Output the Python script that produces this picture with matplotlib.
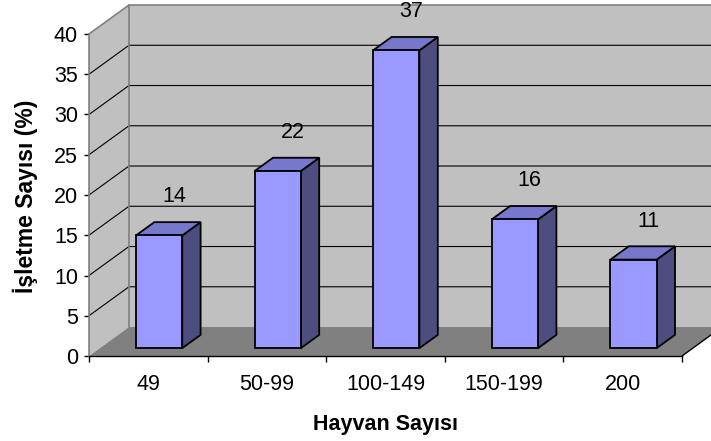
import matplotlib

matplotlib.use("Agg")
import matplotlib.pyplot as plt
import numpy as np
from matplotlib.patches import Polygon

plt.rcParams["font.family"] = ["Liberation Sans", "DejaVu Sans"]

CATEGORIES = ["49", "50-99", "100-149", "150-199", "200"]
VALUES = [14, 22, 37, 16, 11]
Y_TICKS = list(range(0, 41, 5))
X_LABEL = "Hayvan Sayısı"
Y_LABEL = "İşletme Sayısı (%)"

WALL = "#C0C0C0"
FLOOR = "#808080"
EDGE = "#808080"
FRONT = "#9999FF"
SIDE = "#4D4D80"
TOP = "#7777CC"

# oblique offset of the back wall (data units), and bar placement in depth
DEPTH_X = 0.337
DEPTH_Y = 3.6
BAR_WIDTH = 0.39
BAR_Z0, BAR_Z1 = 0.27, 0.73


def shift(x, y, z):
    return x + z * DEPTH_X, y + z * DEPTH_Y


def face(ax, points, color, zorder, lw=0.0, ec="none"):
    ax.add_patch(
        Polygon(points, closed=True, fc=color, ec=ec, lw=lw,
                joinstyle="miter", zorder=zorder, clip_on=False)
    )


fig = plt.figure(figsize=(7.11, 4.41), dpi=100)
ax = fig.add_axes([89 / 711, 85 / 441, 593 / 711, 322 / 441])
n = len(CATEGORIES)
top = Y_TICKS[-1]
ax.set_xlim(0, n)
ax.set_ylim(0, top)
ax.patch.set_visible(False)

# walls and floor
face(ax, [shift(0, 0, 1), shift(n, 0, 1), shift(n, top, 1), shift(0, top, 1)], WALL, 0.5)
face(ax, [(0, 0), shift(0, 0, 1), shift(0, top, 1), (0, top)], WALL, 0.5)
face(ax, [(0, 0), (n, 0), shift(n, 0, 1), shift(0, 0, 1)], FLOOR, 0.6)

for v in Y_TICKS[1:-1]:
    ax.plot([0, DEPTH_X, n + DEPTH_X], [v, v + DEPTH_Y, v + DEPTH_Y],
            color="black", lw=0.8, zorder=0.7, clip_on=False)

ax.plot([0, DEPTH_X, n + DEPTH_X], [top, top + DEPTH_Y, top + DEPTH_Y],
        color=EDGE, lw=1.2, zorder=0.8, clip_on=False)
ax.plot([DEPTH_X, DEPTH_X], [DEPTH_Y, top + DEPTH_Y],
        color=EDGE, lw=1.2, zorder=0.8, clip_on=False)
ax.plot([n, n + DEPTH_X], [0, DEPTH_Y], color="black", lw=1.0, zorder=0.8, clip_on=False)

# bars
for i, v in enumerate(VALUES):
    cx = i + 0.5
    x0, x1 = cx - BAR_WIDTH / 2, cx + BAR_WIDTH / 2
    front = [shift(x0, 0, BAR_Z0), shift(x1, 0, BAR_Z0), shift(x1, v, BAR_Z0), shift(x0, v, BAR_Z0)]
    side = [shift(x1, 0, BAR_Z0), shift(x1, 0, BAR_Z1), shift(x1, v, BAR_Z1), shift(x1, v, BAR_Z0)]
    lid = [shift(x0, v, BAR_Z0), shift(x1, v, BAR_Z0), shift(x1, v, BAR_Z1), shift(x0, v, BAR_Z1)]
    face(ax, side, SIDE, 2, lw=1.3, ec="black")
    face(ax, lid, TOP, 2, lw=1.3, ec="black")
    face(ax, front, FRONT, 2.1, lw=1.3, ec="black")
    ax.annotate(str(v), xy=shift(cx, v, 0.5), xytext=(4, 23), textcoords="offset points",
                ha="center", va="center", fontsize=15.5, annotation_clip=False)

# axes, ticks and labels
for side_name in ("top", "right"):
    ax.spines[side_name].set_visible(False)
ax.spines["left"].set_color(EDGE)
ax.spines["left"].set_linewidth(1.2)
ax.spines["bottom"].set_color("black")
ax.spines["bottom"].set_linewidth(1.0)
ax.spines["left"].set_zorder(3)
ax.spines["bottom"].set_zorder(3)

ax.set_yticks(Y_TICKS)
ax.tick_params(axis="y", length=3.6, width=1.0, pad=4.3, labelsize=15.5, color="black")
ax.set_xticks(np.arange(n + 1))
ax.set_xticklabels([])
ax.set_xticks(np.arange(n) + 0.5, minor=True)
ax.set_xticklabels(CATEGORIES, minor=True)
ax.tick_params(axis="x", which="major", length=4.3, width=1.0, color="black")
ax.tick_params(axis="x", which="minor", length=0, pad=13, labelsize=15.5)

ax.text(0.5008, -0.214, X_LABEL, transform=ax.transAxes, ha="center", va="center",
        fontsize=15.5, fontweight="bold")
ax.text(-0.108, 0.497, Y_LABEL, transform=ax.transAxes, ha="center", va="center",
        rotation=90, fontsize=16.5, fontweight="bold")

fig.savefig("out.png", dpi=100, facecolor="white")
